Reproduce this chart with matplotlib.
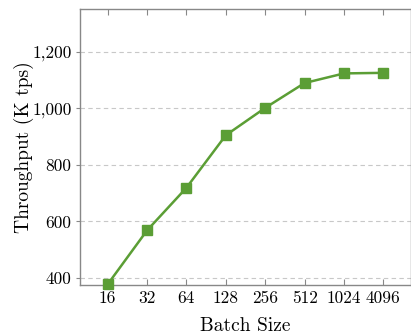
import matplotlib
matplotlib.use("Agg")
import matplotlib.pyplot as plt

batch_labels = ["16", "32", "64", "128", "256", "512", "1024", "4096"]
throughput = [377, 568, 719, 905, 1002, 1090, 1124, 1126]
y_ticks = [400, 600, 800, 1000, 1200]
y_tick_labels = ["400", "600", "800", "1,000", "1,200"]

plt.rcParams['font.family'] = 'serif'
plt.rcParams['font.serif'] = ['cmr10', 'DejaVu Serif']
plt.rcParams['mathtext.fontset'] = 'cm'
plt.rcParams['axes.formatter.use_mathtext'] = True

fig = plt.figure(figsize=(4.11, 3.35), dpi=100)
ax = fig.add_axes([80/411, 1-285/335, 331/411, 276/335])

x = list(range(len(batch_labels)))
ax.plot(x, throughput, color='#5b9e35', marker='s', markersize=7, linewidth=1.8, clip_on=False, zorder=3)

ax.set_xlim(-0.7, 7.7)
ax.set_ylim(375, 1352)
ax.set_xticks(x)
ax.set_xticklabels(batch_labels, fontsize=12.5)
ax.set_yticks(y_ticks)
ax.set_yticklabels(y_tick_labels, fontsize=12.5)
ax.yaxis.grid(True, linestyle=(0, (4, 3)), color='#c8c8c8', linewidth=0.8)
ax.set_axisbelow(True)
ax.tick_params(axis='x', direction='in', top=True, length=4, color='#888888', pad=4)
ax.tick_params(axis='y', direction='out', length=3, color='#888888', pad=3)
for s in ax.spines.values():
    s.set_color('#888888')
    s.set_linewidth(1.0)
ax.set_xlabel("Batch Size", fontsize=14, labelpad=8)
ax.set_ylabel("Throughput (K tps)", fontsize=14, labelpad=-1)

fig.savefig("out.png", dpi=100)
